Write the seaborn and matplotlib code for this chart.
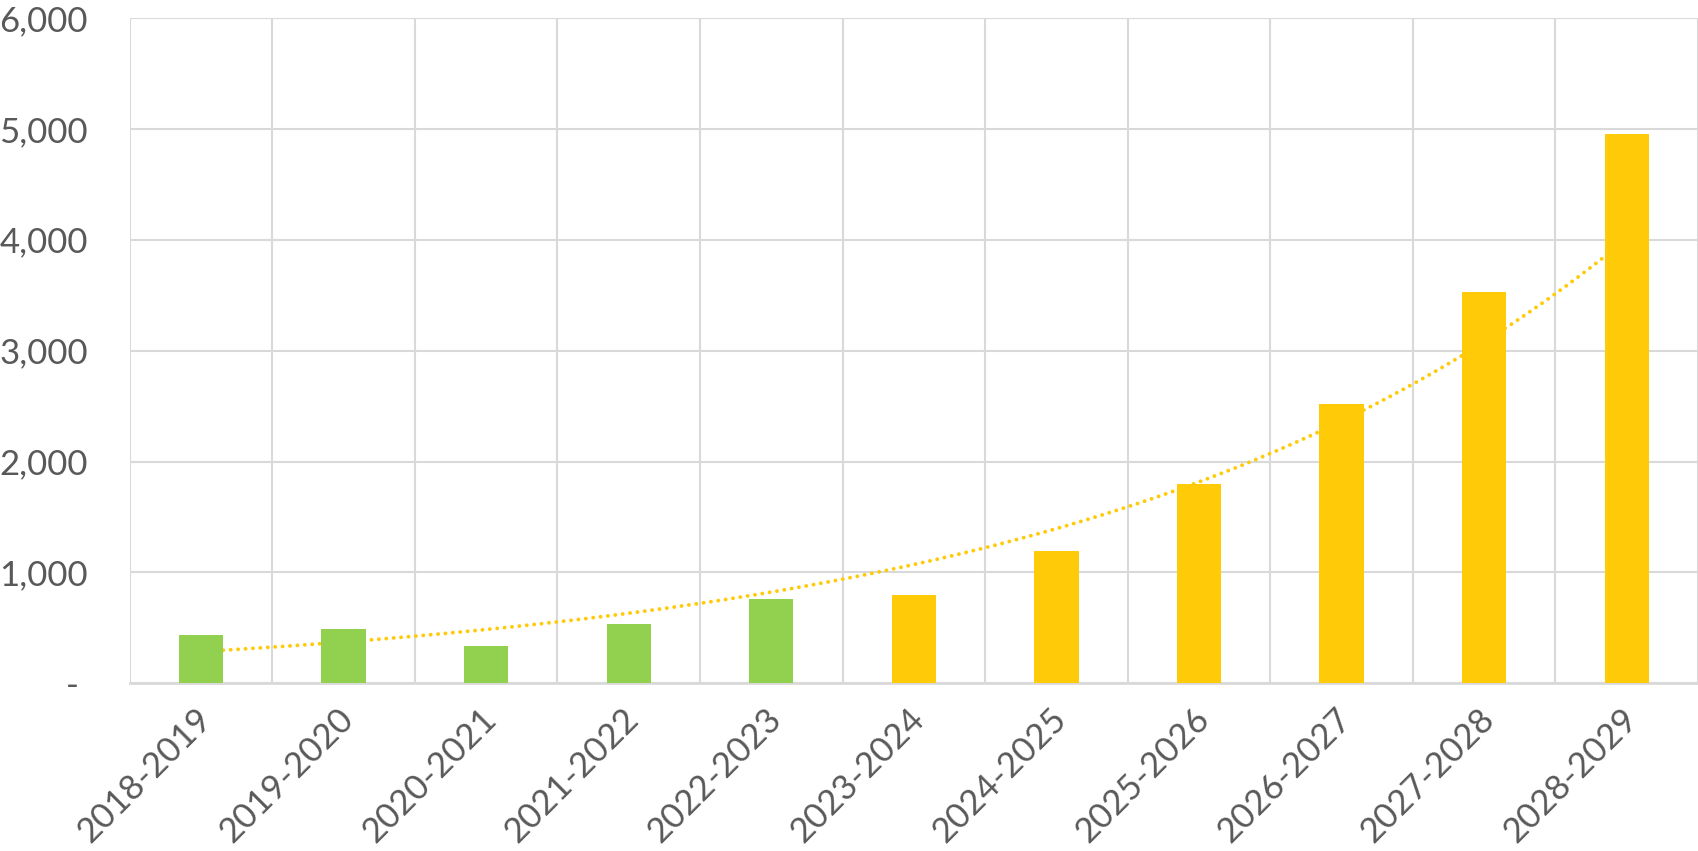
import numpy as np
import pandas as pd
import matplotlib
matplotlib.use("Agg")
import matplotlib.pyplot as plt
import matplotlib.transforms as mtransforms
import seaborn as sns
from matplotlib.ticker import FuncFormatter, FixedLocator

# ---- data ----
categories = ["2018-2019", "2019-2020", "2020-2021", "2021-2022", "2022-2023",
              "2023-2024", "2024-2025", "2025-2026", "2026-2027", "2027-2028", "2028-2029"]
values = [434, 488, 334, 533, 759, 795, 1192, 1795, 2517, 3529, 4950]
status = ["actual"] * 5 + ["forecast"] * 6
palette = {"actual": "#92D050", "forecast": "#FFCA08"}
y_ticks = [0, 1000, 2000, 3000, 4000, 5000, 6000]

sns.set_theme(style="white")
plt.rcParams["font.family"] = ["Lato", "DejaVu Sans"]
plt.rcParams["font.stretch"] = "normal"
plt.rcParams["font.weight"] = "normal"

fig = plt.figure(figsize=(16.98, 8.51), dpi=100)
ax = fig.add_axes([0.0764, 0.197, 0.9236, 0.782])

df = pd.DataFrame({"cat": categories, "val": values, "status": status})
sns.barplot(data=df, x="cat", y="val", hue="status", palette=palette,
            dodge=False, width=0.31, legend=False, ax=ax, zorder=3,
            saturation=1, linewidth=0)

# exponential trendline (Excel-style least squares on log values)
xi = np.arange(1, len(values) + 1)
b, a = np.polyfit(xi, np.log(values), 1)
xs = np.linspace(1, len(values), 300)
trend = np.exp(a + b * xs)
ax.plot(xs - 1, trend, color="#FFCA08", linewidth=2.8,
        linestyle=(0, (0.01, 1.9)), dash_capstyle="round", zorder=2)

ax.set_xlim(-0.5, len(categories) - 0.5)
ax.set_ylim(0, 6000)
ax.yaxis.set_major_locator(FixedLocator(y_ticks))

def fmt(v, pos):
    if v == 0:
        return "- "
    return f"{int(v):,}"
ax.yaxis.set_major_formatter(FuncFormatter(fmt))

ax.set_xticks(np.arange(-0.5, len(categories) + 0.5, 1), minor=True)
ax.grid(True, axis="y", which="major", color="#D9D9D9", linewidth=1.5, zorder=0)
ax.grid(True, axis="x", which="minor", color="#D9D9D9", linewidth=1.5, zorder=0)
ax.grid(False, axis="x", which="major")
ax.set_axisbelow(True)

for s in ["top", "right", "left"]:
    ax.spines[s].set_visible(False)
ax.spines["bottom"].set_color("#D9D9D9")
ax.spines["bottom"].set_linewidth(2)

ax.set_xlabel("")
ax.set_ylabel("")
ax.tick_params(axis="y", length=0, pad=30, labelsize=25, labelcolor="#595959")
ax.tick_params(axis="x", which="both", length=0, pad=22, labelsize=25, labelcolor="#595959")
shift = mtransforms.ScaledTranslation(5 / 100, 0, fig.dpi_scale_trans)
for lbl in ax.get_xticklabels():
    lbl.set_rotation(45)
    lbl.set_ha("right")
    lbl.set_va("center")
    lbl.set_rotation_mode("anchor")
    lbl.set_transform(lbl.get_transform() + shift)

fig.savefig("out.png", dpi=100, facecolor="white")
